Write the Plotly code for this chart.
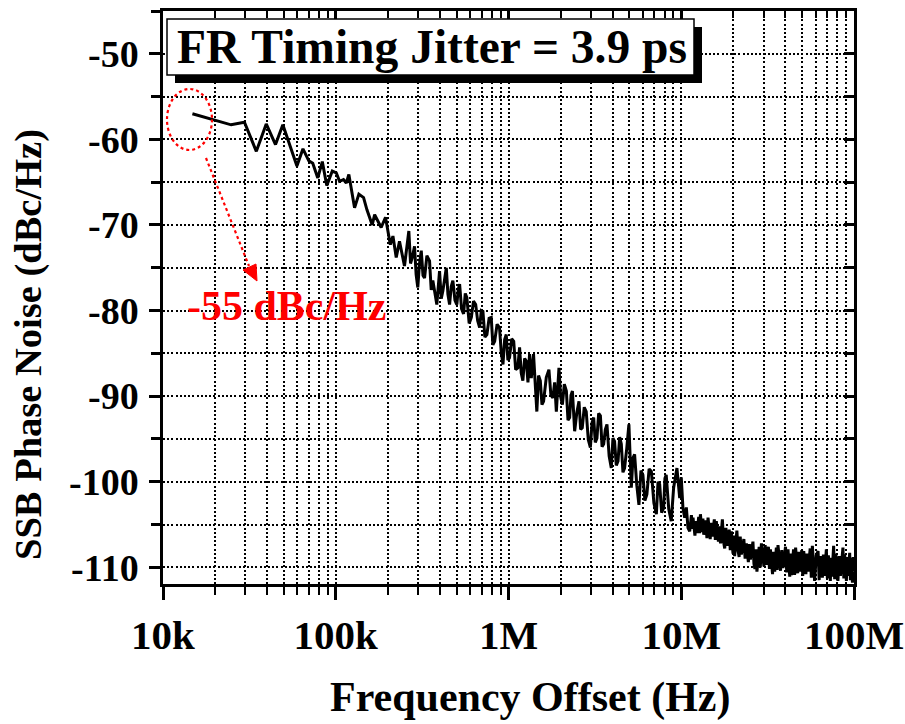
import plotly.graph_objects as go

# ---- data ----
FREQ_HZ = [
    14.8e3, 24.8e3, 29.6e3, 34.7e3, 39.6e3, 44.8e3, 49.4e3, 59.6e3, 64.6e3, 69.8e3,
    73.6e3, 78.7e3, 83.6e3, 88.7e3, 95.5e3, 100.7e3, 105.2e3, 110.9e3, 115.1e3, 119.1e3,
    128.5e3, 136.1e3, 144.9e3, 151.4e3, 162.6e3, 167.9e3, 183.2e3, 194.1e3, 207.0e3, 214.3e3,
    223.9e3, 233.9e3, 250.0e3, 257e3, 264.9e3, 271e3, 277.3e3, 285.8e3, 292e3, 298.5e3,
    305e3, 312.6e3, 320e3, 326.6e3, 337e3, 349.1e3, 357e3, 364.8e3, 375e3, 384.6e3,
    398.9e3, 408e3, 416.9e3, 427e3, 436.5e3, 446e3, 456.0e3, 466e3, 476.4e3, 490e3,
    502.3e3, 512e3, 521.2e3, 535e3, 549.5e3, 562e3, 574.1e3, 592e3, 609.5e3, 627e3,
    645.7e3, 663e3, 680.8e3, 696e3, 711.2e3, 730e3, 749.9e3, 772e3, 794.3e3, 812e3,
    831.8e3, 859e3, 887.2e3, 908e3, 929.0e3, 950e3, 970.5e3, 992e3, 1.014e6, 1.043e6,
    1.072e6, 1.100e6, 1.132e6, 1.159e6, 1.185e6, 1.211e6, 1.240e6, 1.268e6, 1.296e6, 1.324e6,
    1.355e6, 1.396e6, 1.427e6, 1.459e6, 1.493e6, 1.528e6, 1.562e6, 1.596e6, 1.655e6, 1.714e6,
    1.760e6, 1.807e6, 1.850e6, 1.892e6, 1.959e6, 2.005e6, 2.051e6, 2.105e6, 2.163e6, 2.210e6,
    2.259e6, 2.300e6, 2.344e6, 2.415e6, 2.487e6, 2.559e6, 2.615e6, 2.673e6, 2.745e6, 2.818e6,
    2.897e6, 2.979e6, 3.044e6, 3.112e6, 3.180e6, 3.251e6, 3.326e6, 3.404e6, 3.480e6, 3.556e6,
    3.634e6, 3.715e6, 3.825e6, 3.936e6, 4.023e6, 4.111e6, 4.207e6, 4.305e6, 4.400e6, 4.498e6,
    4.598e6, 4.699e6, 4.837e6, 4.977e6, 5.140e6, 5.255e6, 5.370e6, 5.528e6, 5.689e6, 5.843e6,
    5.998e6, 6.160e6, 6.324e6, 6.516e6, 6.714e6, 6.944e6, 7.178e6, 7.337e6, 7.499e6, 7.700e6,
    7.907e6, 8.045e6, 8.185e6, 8.465e6, 8.750e6, 9.036e6, 9.441e6, 9.795e6, 10.0e6,
    10.23e6, 10.47e6, 10.70e6, 10.94e6, 11.19e6, 11.45e6, 11.58e6, 11.70e6, 12.00e6, 12.17e6,
    12.33e6, 12.62e6, 12.77e6, 12.91e6, 13.20e6, 13.35e6, 13.49e6, 13.88e6, 14.08e6, 14.29e6,
    14.71e6, 14.92e6, 15.14e6, 15.54e6, 15.75e6, 15.96e6, 16.41e6, 16.64e6, 16.87e6, 17.30e6,
    17.57e6, 17.85e6, 18.13e6, 18.41e6, 18.95e6, 19.22e6, 19.50e6, 19.93e6, 20.15e6, 20.37e6,
    20.99e6, 21.30e6, 21.63e6, 21.95e6, 22.28e6, 23.04e6, 23.43e6, 23.82e6, 24.46e6, 24.80e6,
    25.12e6, 26.00e6, 26.35e6, 26.70e6, 27.05e6, 27.42e6, 28.25e6, 28.68e6, 29.11e6, 30.10e6,
    30.60e6, 31.12e6, 31.95e6, 32.40e6, 32.81e6, 33.76e6, 34.25e6, 34.75e6, 35.52e6, 35.90e6,
    36.31e6, 37.55e6, 38.20e6, 38.82e6, 40.14e6, 40.80e6, 41.50e6, 42.46e6, 42.95e6, 43.45e6,
    44.67e6, 45.30e6, 45.92e6, 47.21e6, 47.85e6, 48.53e6, 49.83e6, 50.50e6, 51.17e6, 52.66e6,
    53.40e6, 54.20e6, 55.78e6, 56.60e6, 57.41e6, 59.16e6, 60.50e6, 61.94e6, 62.85e6, 63.76e6,
    65.61e6, 66.50e6, 67.38e6, 69.18e6, 70.10e6, 71.05e6, 72.95e6, 73.75e6, 74.57e6, 76.21e6,
    77.30e6, 78.45e6, 80.72e6, 82.10e6, 83.46e6, 86.30e6, 87.30e6, 88.31e6, 90.36e6, 91.35e6,
    92.36e6, 94.41e6, 95.30e6, 96.16e6, 97.95e6, 99.00e6, 100.0e6,
]
PHASE_NOISE_DBC = [
    -57.0, -58.3, -58.0, -61.4, -58.2, -60.6, -58.3, -63.1, -61.1, -62.5,
    -62.8, -64.5, -62.6, -65.4, -63.7, -63.9, -64.9, -64.7, -65.1, -64.1,
    -68.0, -66.4, -66.8, -68.2, -70.0, -68.8, -70.3, -69.1, -72.3, -71.3,
    -73.8, -71.9, -74.8, -72.9, -70.7, -74.5, -73.8, -72.5, -75.8, -77.3,
    -74.6, -73.0, -75.9, -76.2, -73.6, -74.2, -77.6, -76.5, -78.2, -79.3,
    -75.4, -78.6, -77.7, -76.0, -75.0, -78.1, -79.3, -77.2, -76.5, -78.8,
    -79.3, -77.5, -76.9, -79.8, -80.4, -78.0, -78.5, -81.5, -80.8, -78.9,
    -79.3, -81.2, -82.0, -80.0, -80.1, -83.1, -82.8, -80.9, -80.8, -84.0,
    -83.6, -81.6, -82.0, -84.9, -86.3, -83.4, -82.8, -85.8, -85.5, -83.3,
    -83.6, -86.9, -86.7, -84.3, -87.3, -88.2, -85.6, -85.9, -88.4, -85.1,
    -87.9, -85.1, -88.5, -91.8, -87.6, -88.2, -91.0, -90.6, -87.8, -86.9,
    -89.9, -90.2, -88.4, -91.8, -86.7, -90.1, -91.0, -88.6, -89.4, -92.8,
    -92.5, -89.9, -89.4, -94.1, -91.9, -90.6, -93.9, -93.7, -91.3, -91.8,
    -95.1, -96.0, -93.1, -92.5, -95.4, -94.9, -92.0, -92.3, -95.9, -95.6,
    -93.9, -93.3, -97.0, -98.4, -94.9, -95.3, -98.1, -97.6, -94.8, -95.6,
    -98.9, -98.4, -96.1, -93.3, -100.7, -97.2, -96.8, -100.4, -102.7, -98.7,
    -99.2, -102.2, -101.5, -98.5, -98.8, -102.5, -103.8, -100.0, -100.3, -103.6,
    -103.1, -99.6, -99.2, -103.2, -104.6, -100.7, -98.4, -101.9, -99.5,
    -103.1, -104.2, -103.0, -105.4, -105.8, -103.9, -105.5, -104.2, -106.3, -104.6,
    -106.0, -104.1, -106.0, -103.8, -105.9, -104.3, -106.2, -104.5, -106.6, -104.2,
    -106.7, -104.8, -106.4, -104.4, -106.8, -104.6, -107.0, -105.2, -107.2, -104.4,
    -107.0, -107.8, -105.4, -107.5, -105.6, -108.0, -105.8, -108.4, -106.3, -108.7,
    -105.7, -108.0, -108.8, -106.4, -108.5, -106.7, -109.0, -107.2, -109.4, -107.3,
    -109.1, -107.0, -109.6, -110.2, -107.9, -110.5, -107.6, -110.0, -107.2, -109.9,
    -107.4, -109.7, -107.6, -110.2, -107.9, -110.8, -108.2, -110.5, -107.7, -110.3,
    -107.4, -110.4, -108.0, -110.1, -107.6, -110.6, -107.9, -111.1, -108.4, -110.9,
    -107.9, -110.9, -107.7, -110.7, -108.2, -110.5, -108.0, -111.0, -108.1, -110.8,
    -108.4, -110.5, -107.8, -111.2, -107.5, -111.6, -108.6, -108.1, -111.5, -108.7,
    -111.2, -108.5, -111.0, -107.9, -111.3, -108.6, -111.6, -108.9, -111.1, -107.5,
    -111.4, -108.4, -111.6, -108.7, -111.0, -107.7, -111.3, -108.5, -111.6, -108.8,
    -111.0, -108.3, -111.5, -108.9, -111.8, -108.8, -110.5,
]
assert len(FREQ_HZ) == len(PHASE_NOISE_DBC)

X_TICK_VALUES = [1e4, 1e5, 1e6, 1e7, 1e8]
X_TICK_LABELS = ["10k", "100k", "1M", "10M", "100M"]
Y_TICK_VALUES = [-110, -100, -90, -80, -70, -60, -50]
Y_TICK_LABELS = ["-110", "-100", "-90", "-80", "-70", "-60", "-50"]

TITLE_TEXT = "FR Timing Jitter = 3.9 ps"
NOTE_TEXT = "-55 dBc/Hz"
X_TITLE = "Frequency Offset (Hz)"
Y_TITLE = "SSB Phase Noise (dBc/Hz)"

# ---- layout geometry ----
W, H = 905, 724
L, R, T, B = 163, 51, 11, 140
PW, PH = W - L - R, H - T - B


def px(xp):
    return (xp - L) / PW


def py(yp):
    return (H - B - yp) / PH


FONT = "Liberation Serif"
X_MINOR = [m * 10 ** e for e in range(4, 8) for m in range(2, 10)]

fig = go.Figure()
fig.add_trace(go.Scatter(
    x=FREQ_HZ, y=PHASE_NOISE_DBC, mode="lines",
    line=dict(color="black", width=3), showlegend=False, hoverinfo="skip",
))
fig.add_trace(go.Scatter(
    x=FREQ_HZ[:1], y=PHASE_NOISE_DBC[:1], xaxis="x2", yaxis="y2", mode="markers",
    marker=dict(opacity=0), showlegend=False, hoverinfo="skip",
))

grid = dict(showgrid=True, gridcolor="black", griddash="2px,2.2px", gridwidth=2)

fig.update_layout(
    width=W, height=H,
    margin=dict(l=L, r=R, t=T, b=B, autoexpand=False),
    paper_bgcolor="white", plot_bgcolor="white",
    font=dict(family=FONT, color="black", weight="bold"),
    xaxis=dict(
        type="log", range=[4, 8], showline=True, linecolor="black", linewidth=2.5,
        tickmode="array", tickvals=X_TICK_VALUES, ticktext=X_TICK_LABELS,
        ticks="outside", ticklen=13, tickwidth=2.5, tickcolor="black",
        tickfont=dict(size=41, family=FONT, weight="bold"),
        zeroline=False, automargin=False, **grid,
        minor=dict(tickmode="array", tickvals=X_MINOR, ticks="outside", ticklen=8,
                   tickwidth=2, tickcolor="black", **grid),
    ),
    xaxis2=dict(
        type="log", range=[4, 8], overlaying="x", side="top", showline=True,
        linecolor="black", linewidth=2.5, tickmode="array", tickvals=X_TICK_VALUES,
        ticks="inside", ticklen=9, tickwidth=2.5, tickcolor="black",
        showticklabels=False, showgrid=False, zeroline=False, automargin=False,
        minor=dict(tickmode="array", tickvals=X_MINOR, ticks="inside", ticklen=7,
                   tickwidth=2, tickcolor="black", showgrid=False),
    ),
    yaxis=dict(
        range=[-111.95, -45.0], showline=True, linecolor="black", linewidth=2.5,
        tickmode="array", tickvals=Y_TICK_VALUES, ticktext=Y_TICK_LABELS,
        ticks="outside", ticklen=11, tickwidth=2.5, tickcolor="black",
        tickfont=dict(size=38, family=FONT, weight="bold"),
        ticklabelstandoff=3, zeroline=False, automargin=False, **grid,
        minor=dict(dtick=5, tick0=-45, ticks="outside", ticklen=9, tickwidth=2.5,
                   tickcolor="black", **grid),
    ),
    yaxis2=dict(
        range=[-111.95, -45.0], overlaying="y", side="right", showline=True,
        linecolor="black", linewidth=2.5, tickmode="array", tickvals=Y_TICK_VALUES,
        ticks="inside", ticklen=10, tickwidth=2.5, tickcolor="black",
        showticklabels=False, showgrid=False, zeroline=False, automargin=False,
        minor=dict(dtick=5, tick0=-45, ticks="inside", ticklen=10, tickwidth=2.5,
                   tickcolor="black", showgrid=False),
    ),
)

shapes = [
    # title box shadow and box
    dict(type="rect", xref="paper", yref="paper", x0=px(175), x1=px(702), y0=py(83), y1=py(27),
         fillcolor="black", line=dict(width=0), layer="above"),
    dict(type="rect", xref="paper", yref="paper", x0=px(167), x1=px(694), y0=py(75), y1=py(19),
         fillcolor="white", line=dict(color="black", width=1.5), layer="above"),
    # red dotted ellipse
    dict(type="circle", xref="paper", yref="paper", x0=px(167), x1=px(212), y0=py(150), y1=py(89),
         line=dict(color="red", width=2.2, dash="dot"), layer="above"),
    # red dotted arrow shaft
    dict(type="line", xref="paper", yref="paper", x0=px(206), y0=py(158), x1=px(249), y1=py(266),
         line=dict(color="red", width=2.2, dash="dot"), layer="above"),
    # arrow head
    dict(type="path", xref="paper", yref="paper",
         path=f"M {px(257)} {py(281)} L {px(243)} {py(270)} L {px(256)} {py(264)} Z",
         fillcolor="red", line=dict(color="red", width=1), layer="above"),
]
fig.update_layout(shapes=shapes)

fig.add_annotation(
    text=TITLE_TEXT, xref="paper", yref="paper", x=px(432), y=py(47),
    showarrow=False, xanchor="center", yanchor="middle",
    font=dict(size=47.5, family=FONT, weight="bold", color="black"),
)
fig.add_annotation(
    text=NOTE_TEXT, xref="paper", yref="paper", x=px(286), y=py(306),
    showarrow=False, xanchor="center", yanchor="middle",
    font=dict(size=42, family=FONT, weight="bold", color="red"),
)
fig.add_annotation(
    text=X_TITLE, xref="paper", yref="paper", x=px(530), y=py(698),
    showarrow=False, xanchor="center", yanchor="middle",
    font=dict(size=42, family=FONT, weight="bold", color="black"),
)
fig.add_annotation(
    text=Y_TITLE, xref="paper", yref="paper", x=px(28), y=py(345),
    showarrow=False, xanchor="center", yanchor="middle", textangle=-90,
    font=dict(size=38.5, family=FONT, weight="bold", color="black"),
)

fig.write_html("out.html")
